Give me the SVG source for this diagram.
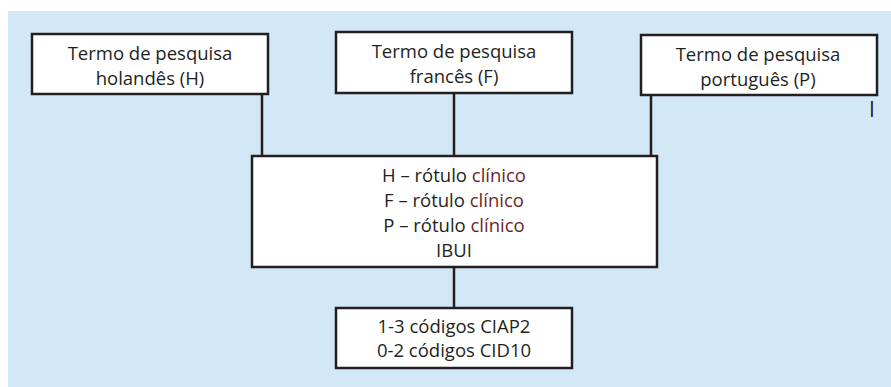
<svg xmlns="http://www.w3.org/2000/svg" width="891" height="387" viewBox="0 0 891 387">
<style>
.box{fill:#fff;stroke:#231f20;stroke-width:2.5}
.ln{stroke:#231f20;stroke-width:2.5;fill:none}
text{font-family:"Open Sans","Liberation Sans",sans-serif;font-size:18.5px;fill:#231f20;text-anchor:middle}
.r{fill:#6e1f2a}
</style>
<rect x="8" y="11" width="883" height="376" fill="#d3e8f6"/>
<g id="connectors">
<line class="ln" x1="262" y1="94" x2="262" y2="157"/>
<line class="ln" x1="454" y1="93" x2="454" y2="157"/>
<line class="ln" x1="651" y1="95" x2="651" y2="157"/>
<line class="ln" x1="454" y1="267" x2="454" y2="308"/>
</g>
<g id="node-h">
<rect class="box" x="32" y="34" width="236" height="60"/>
<text x="150" y="60">Termo de pesquisa</text>
<text x="150" y="85">holandês (H)</text>
</g>
<g id="node-f">
<rect class="box" x="336" y="32" width="236" height="61"/>
<text x="454" y="58">Termo de pesquisa</text>
<text x="454" y="83">francês (F)</text>
</g>
<g id="node-p">
<rect class="box" x="641" y="35" width="236" height="60"/>
<text x="758" y="61">Termo de pesquisa</text>
<text x="758" y="86">português (P)</text>
</g>
<g id="mark">
<text x="872" y="117" style="font-size:21px">I</text>
</g>
<g id="node-labels">
<rect class="box" x="252" y="156" width="405" height="111"/>
<text x="454" y="182">H – rótulo <tspan class="r">clínico</tspan></text>
<text x="454" y="207">F – rótulo <tspan class="r">clínico</tspan></text>
<text x="454" y="232">P – rótulo <tspan class="r">clínico</tspan></text>
<text x="454" y="257">IBUI</text>
</g>
<g id="node-codes">
<rect class="box" x="336" y="308" width="236" height="60"/>
<text x="454" y="333">1-3 códigos CIAP2</text>
<text x="454" y="357">0-2 códigos CID10</text>
</g>
</svg>
